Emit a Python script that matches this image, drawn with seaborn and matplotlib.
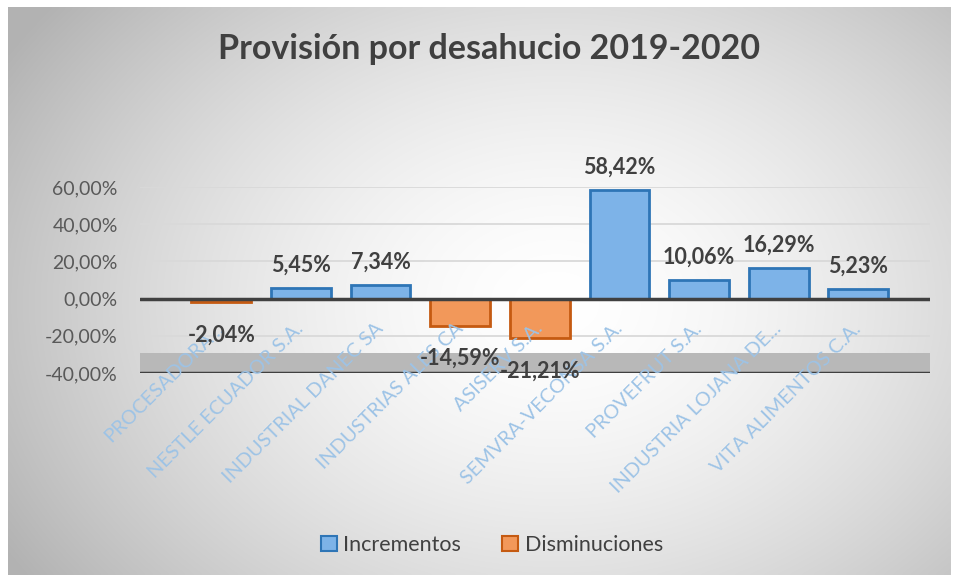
import numpy as np
import pandas as pd
import matplotlib
matplotlib.use("Agg")
import matplotlib.pyplot as plt
import seaborn as sns
from matplotlib.ticker import FuncFormatter
from matplotlib.patches import Patch

categories = ["PROCESADORA...", "NESTLE ECUADOR S.A.", "INDUSTRIAL DANEC SA",
              "INDUSTRIAS ALES CA", "ASISERV S.A.", "SEMVRA-VECONSA S.A.",
              "PROVEFRUT S.A.", "INDUSTRIA LOJANA DE...", "VITA ALIMENTOS C.A."]
values = [-2.04, 5.45, 7.34, -14.59, -21.21, 58.42, 10.06, 16.29, 5.23]
series_names = ["Incrementos", "Disminuciones"]
title = "Provisión por desahucio 2019-2020"
y_ticks = [-40, -20, 0, 20, 40, 60]

df = pd.DataFrame({
    "categoria": categories,
    "valor": values,
    "serie": [series_names[0] if v >= 0 else series_names[1] for v in values],
})

sns.set_theme(style="white")
plt.rcParams["font.family"] = ["Lato", "DejaVu Sans"]

W, H = 960, 579
fig = plt.figure(figsize=(W / 100, H / 100), dpi=100)
fig.patch.set_facecolor("white")

# background gradient panel
bg = fig.add_axes([8 / W, 4 / H, (951 - 8) / W, (572 - 4) / H], zorder=-10)
yy, xx = np.mgrid[0:200, 0:300]
cx, cy = 0.58 * 300, 0.52 * 200
r = np.sqrt(((xx - cx) / 300 * 1.25) ** 2 + ((yy - cy) / 200 * 1.0) ** 2)
g = 1.0 - 0.30 * np.clip(r / 0.85, 0, 1) ** 1.6
img = np.dstack([g, g, g])
bg.imshow(img, aspect="auto", extent=[0, 1, 0, 1], interpolation="bicubic")
bg.set_axis_off()

ax = fig.add_axes([140 / W, (H - 373) / H, (930 - 140) / W, (373 - 187) / H])
ax.set_facecolor("none")

colors = {"Incrementos": "#7DB3E8", "Disminuciones": "#F2985A"}
edges = {"Incrementos": "#2E75B6", "Disminuciones": "#C55A11"}

sns.barplot(data=df, x="categoria", y="valor", hue="serie", order=categories,
            hue_order=series_names, palette=colors, dodge=False, width=0.75,
            saturation=1, ax=ax, legend=False, zorder=3, linewidth=2)

for cont, name in zip(ax.containers, series_names):
    for bar in cont:
        bar.set_edgecolor(edges[name])
        bar.set_linewidth(2)
    ax.bar_label(cont, labels=[("" if np.isnan(b.get_height()) else f"{b.get_height():.2f}%".replace(".", ","))
                               for b in cont],
                 padding=9 if name == "Incrementos" else 16,
                 fontsize=15.5, fontweight="bold", color="#404040", zorder=6)

ax.set_xlim(-1.02, 8.9)
ax.set_ylim(-40, 60)
ax.set_yticks(y_ticks)
ax.yaxis.set_major_formatter(FuncFormatter(lambda v, p: f"{v:.2f}%".replace(".", ",")))
ax.axhspan(-40, -29, color="#b8b8b8", zorder=1, lw=0)
ax.grid(axis="y", color="#d9d9d9", lw=1.3, zorder=0)
ax.grid(axis="x", visible=False)
ax.axhline(0, color="#404040", lw=2.5, zorder=4)
ax.axhline(-40, color="#404040", lw=2.5, zorder=4)
for s in ax.spines.values():
    s.set_visible(False)

ax.tick_params(axis="y", length=0, pad=16, labelsize=14, labelcolor="#595959")
ax.tick_params(axis="x", length=0, pad=-34, labelsize=14.3, labelcolor="#9DC3E6")
ax.xaxis.set_zorder(5)
for lbl in ax.get_xticklabels():
    lbl.set_rotation(45)
    lbl.set_ha("right")
    lbl.set_va("center")
    lbl.set_rotation_mode("anchor")
ax.set_xlabel("")
ax.set_ylabel("")

fig.text(489 / W, 1 - 49 / H, title, ha="center", va="center",
         fontsize=24.5, fontweight="bold", color="#404040")

handles = [Patch(facecolor=colors[n], edgecolor=edges[n], linewidth=1.5, label=n) for n in series_names]
fig.legend(handles=handles, loc="center", bbox_to_anchor=(492 / W, 1 - 545 / H), ncol=2,
           frameon=False, fontsize=15.5, handlelength=0.75, handleheight=0.75,
           handletextpad=0.3, columnspacing=1.9, labelcolor="#404040")

fig.savefig("out.png", dpi=100)
